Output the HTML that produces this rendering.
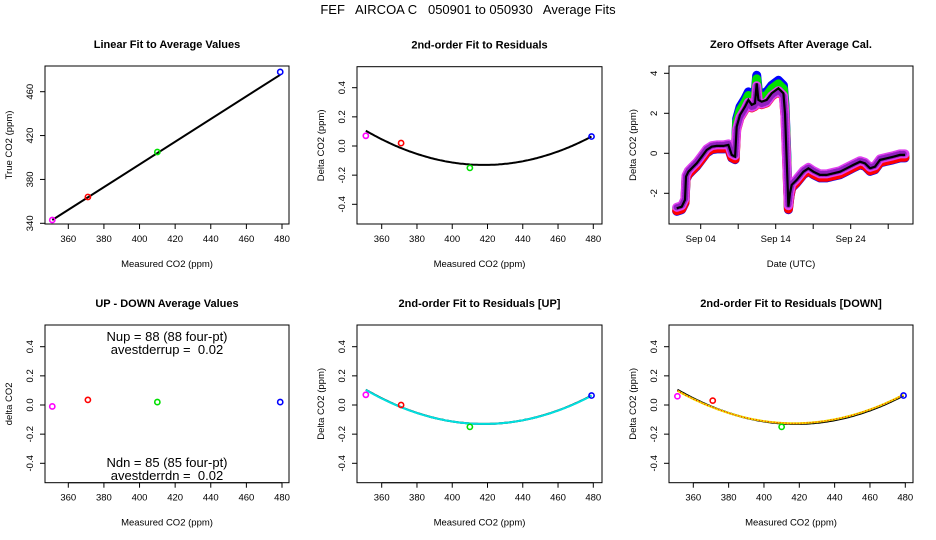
<!DOCTYPE html>
<html><head><meta charset="utf-8">
<style>
html,body{margin:0;padding:0;background:#fff;}
svg{display:block;font-family:"Liberation Sans",sans-serif;}
text{fill:#000;}
</style></head>
<body>
<svg id="chart" width="936" height="540" viewBox="0 0 936 540" xmlns="http://www.w3.org/2000/svg">
<text x="468" y="14" font-size="13" text-anchor="middle" style="white-space:pre">FEF   AIRCOA C   050901 to 050930   Average Fits</text>
</svg>
<script>
// ---------- data ----------
const co2Ticks = [360, 380, 400, 420, 440, 460, 480];
const trueTicks = [340, 380, 420, 460];
const deltaTicks = [-0.4, -0.2, 0.0, 0.2, 0.4];
const zeroTicks = [-2, 0, 2, 4];
const dateTickDays = [4, 9, 14, 19, 24, 29];
const dateTickLabels = ['Sep 04', '', 'Sep 14', '', 'Sep 24', ''];
const colors = ['magenta', 'red', '#00e000', 'blue'];

const measured = [351, 371, 410, 479];
const trueVals = [343, 364, 405, 478];
const linCoef = [1.0345, -20.1];          // slope, intercept

const resid = [0.07, 0.02, -0.15, 0.065];
const fitAll = [5.24e-5, 418, -0.13];     // a, xmin, ymin

const upDown = [-0.01, 0.035, 0.02, 0.02];

const residUp = [0.07, 0.0, -0.15, 0.065];
const fitUp = [5.2e-5, 418, -0.13];
const residDn = [0.06, 0.03, -0.15, 0.065];
const fitDn = [5.1e-5, 417, -0.125];

const zeroDays = [0.8,1.47,1.91,2.04,2.36,2.8,3.47,4.13,4.8,5.47,6.13,7.02,7.69,8.13,8.58,8.8,9.24,9.91,10.36,10.8,11.24,11.47,11.69,12.13,12.8,13.47,14.36,15.02,15.24,15.47,15.69,15.91,16.13,16.8,17.69,18.36,19.02,19.91,20.8,21.69,22.58,23.47,24.36,25.24,25.91,26.58,27.24,27.91,28.8,29.69,30.58,31.24];
const zeroMean = [-2.75,-2.67,-2.33,-1.17,-0.92,-0.75,-0.5,-0.17,0.17,0.33,0.37,0.37,0.42,-0.08,-0.17,1.33,1.92,2.33,2.67,2.42,2.5,3.5,2.67,2.58,2.67,3.0,3.25,3.0,2.0,-0.33,-2.67,-2.0,-1.58,-1.33,-0.92,-0.75,-0.92,-1.08,-1.08,-1.0,-0.92,-0.75,-0.58,-0.42,-0.5,-0.75,-0.67,-0.33,-0.25,-0.17,-0.08,-0.08];
// per-tank offsets from mean by period: [before Sep 8.7, Sep 8.7-15.5, after]
const offBlue = [-0.15, 0.4, -0.15];
const offGreen = [0.0, 0.22, -0.05];
const offRed = [-0.12, -0.15, -0.12];
const offMagenta = [0.05, -0.12, 0.05];
const periodBreaks = [8.7, 15.5];

// ---------- helpers ----------
const svg = document.getElementById('chart');
const NS = 'http://www.w3.org/2000/svg';
function mk(tag, attrs, parent) {
  const e = document.createElementNS(NS, tag);
  for (const k in attrs) e.setAttribute(k, attrs[k]);
  (parent || svg).appendChild(e);
  return e;
}
function lin(d0, d1, p0, p1) { return v => p0 + (v - d0) * (p1 - p0) / (d1 - d0); }

function panel(P) {
  const g = mk('g', {});
  
  
  const t = mk('text', {x: (P.L + P.R) / 2, y: P.T - 18, 'font-size': 11, 'font-weight': 'bold', 'text-anchor': 'middle'}, g);
  
  
  t.textContent = P.title;
  const box = mk('rect', {x: P.L, y: P.T, width: P.R - P.L, height: P.B - P.T, fill: 'none', stroke: '#000', 'stroke-width': 1}, g);
  
  
  const xa = mk('g', {}, g);
  
  
  const xs = P.xt.map(P.x);
  mk('line', {x1: xs[0], x2: xs[xs.length - 1], y1: P.B, y2: P.B, stroke: '#000'}, xa);
  P.xt.forEach((v, i) => {
    mk('line', {x1: xs[i], x2: xs[i], y1: P.B, y2: P.B + 5, stroke: '#000'}, xa);
    const lab = P.xl ? P.xl[i] : String(v);
    if (lab) {
      const tx = mk('text', {x: xs[i], y: P.B + 18, 'font-size': 9.5, 'text-anchor': 'middle'}, xa);
      
      
      tx.textContent = lab;
    }
  });
  const xt = mk('text', {x: (P.L + P.R) / 2, y: P.B + 43, 'font-size': 9.5, 'text-anchor': 'middle'}, g);
  
  
  xt.textContent = P.xtitle;
  const ya = mk('g', {}, g);
  
  
  const ys = P.yt.map(P.y);
  mk('line', {x1: P.L, x2: P.L, y1: ys[0], y2: ys[ys.length - 1], stroke: '#000'}, ya);
  P.yt.forEach((v, i) => {
    mk('line', {x1: P.L, x2: P.L - 5, y1: ys[i], y2: ys[i], stroke: '#000'}, ya);
    const lab = P.yfmt ? P.yfmt(v) : String(v);
    const tx = mk('text', {x: P.L - 12, y: ys[i], 'font-size': 9.5, 'text-anchor': 'middle', transform: `rotate(-90 ${P.L - 12} ${ys[i]})`}, ya);
    
    
    tx.textContent = lab;
  });
  const yx = P.L - 33, yy = (P.T + P.B) / 2;
  const ytt = mk('text', {x: yx, y: yy, 'font-size': 9.5, 'text-anchor': 'middle', transform: `rotate(-90 ${yx} ${yy})`}, g);
  
  
  ytt.textContent = P.ytitle;
  return g;
}
function pts(g, P, xs, ys) {
  xs.forEach((v, i) => {
    const c = mk('circle', {cx: P.x(v), cy: P.y(ys[i]), r: 2.6, fill: 'none', stroke: colors[i], 'stroke-width': 1.6}, g);
    
    
  });
}
function quadCurve(g, P, coef, x0, x1, attrs, name) {
  let d = '';
  for (let v = x0; v <= x1 + 0.01; v += 1) {
    const yv = coef[0] * (v - coef[1]) * (v - coef[1]) + coef[2];
    d += (d ? 'L' : 'M') + P.x(v).toFixed(1) + ',' + P.y(yv).toFixed(1);
  }
  const p = mk('path', Object.assign({d: d, fill: 'none'}, attrs), g);
  
  
}
const f1 = v => v.toFixed(1);

// ---------- panel 1 ----------
const P1 = {name: 'linear-fit-panel', title: 'Linear Fit to Average Values', L: 45, R: 289, T: 66, B: 224,
  x: lin(360, 480, 68.3, 282), y: lin(340, 460, 223.3, 91.7), xt: co2Ticks, yt: trueTicks,
  xtitle: 'Measured CO2 (ppm)', ytitle: 'True CO2 (ppm)'};
const g1 = panel(P1);
{
  const xa = 351, xb = 479;
  const l = mk('line', {x1: P1.x(xa), y1: P1.y(linCoef[0] * xa + linCoef[1]), x2: P1.x(xb), y2: P1.y(linCoef[0] * xb + linCoef[1]), stroke: '#000', 'stroke-width': 2}, g1);
  
  
  pts(g1, P1, measured, trueVals);
}

// ---------- panel 2 ----------
const P2 = {name: 'residual-fit-panel', title: '2nd-order Fit to Residuals', L: 357, R: 602, T: 66.7, B: 224,
  x: lin(360, 480, 381.7, 593.3), y: lin(0, 0.4, 146, 87.7), xt: co2Ticks, yt: deltaTicks, yfmt: f1,
  xtitle: 'Measured CO2 (ppm)', ytitle: 'Delta CO2 (ppm)'};
const g2 = panel(P2);
quadCurve(g2, P2, fitAll, 351, 479, {stroke: '#000', 'stroke-width': 2}, 'quadratic-fit-curve');
pts(g2, P2, measured, resid);

// ---------- panel 3 ----------
const P3 = {name: 'zero-offsets-panel', title: 'Zero Offsets After Average Cal.', L: 669, R: 913, T: 66, B: 224,
  x: lin(4, 24, 700.7, 850.7), y: lin(0, 4, 153.3, 73.3), xt: dateTickDays, xl: dateTickLabels, yt: zeroTicks,
  xtitle: 'Date (UTC)', ytitle: 'Delta CO2 (ppm)'};
const g3 = panel(P3);
function band(off, color, name, width, dash) {
  let d = '';
  zeroDays.forEach((dy, i) => {
    const k = dy < periodBreaks[0] ? 0 : (dy < periodBreaks[1] ? 1 : 2);
    d += (i ? 'L' : 'M') + P3.x(dy).toFixed(1) + ',' + P3.y(zeroMean[i] + off[k]).toFixed(1);
  });
  const a = {d: d, fill: 'none', stroke: color, 'stroke-width': width, 'stroke-linejoin': 'round', 'stroke-linecap': 'round'};
  if (dash) a['stroke-dasharray'] = dash;
  const p = mk('path', a, g3);
  
  
}
band(offBlue, 'blue', 'tank-blue-offsets', 9);
band(offGreen, '#00e000', 'tank-green-offsets', 9);
band(offRed, 'red', 'tank-red-offsets', 9);
band(offMagenta, '#e040f0', 'tank-magenta-offsets', 9);
band(offMagenta, '#9020c0', 'tank-magenta-offsets-texture', 6, '1 2');
{
  let d = '';
  zeroDays.forEach((dy, i) => { d += (i ? 'L' : 'M') + P3.x(dy).toFixed(1) + ',' + P3.y(zeroMean[i]).toFixed(1); });
  const p = mk('path', {d: d, fill: 'none', stroke: '#000', 'stroke-width': 2.2}, g3);
  
  
}

// ---------- panel 4 ----------
const P4 = {name: 'up-down-panel', title: 'UP - DOWN Average Values', L: 45, R: 289, T: 325, B: 482.7,
  x: lin(360, 480, 68.3, 282), y: lin(0, 0.4, 405, 346.7), xt: co2Ticks, yt: deltaTicks, yfmt: f1,
  xtitle: 'Measured CO2 (ppm)', ytitle: 'delta CO2'};
const g4 = panel(P4);
pts(g4, P4, measured, upDown);
[['Nup = 88 (88 four-pt)', 337], ['avestderrup =  0.02', 350], ['Ndn = 85 (85 four-pt)', 463], ['avestderrdn =  0.02', 476]].forEach(a => {
  const t = mk('text', {x: 167, y: a[1] + 4, 'font-size': 13, 'text-anchor': 'middle', style: 'white-space:pre'}, g4);
  
  
  t.textContent = a[0];
});

// ---------- panel 5 ----------
const P5 = {name: 'residual-fit-up-panel', title: '2nd-order Fit to Residuals [UP]', L: 357, R: 602, T: 325, B: 482.7,
  x: lin(360, 480, 381.7, 593.3), y: lin(0, 0.4, 405, 346.7), xt: co2Ticks, yt: deltaTicks, yfmt: f1,
  xtitle: 'Measured CO2 (ppm)', ytitle: 'Delta CO2 (ppm)'};
const g5 = panel(P5);
quadCurve(g5, P5, fitAll, 351, 479, {stroke: '#000', 'stroke-width': 2}, 'overall-fit-curve');
quadCurve(g5, P5, fitUp, 351, 479, {stroke: '#00e0e0', 'stroke-width': 2}, 'up-fit-curve');
pts(g5, P5, measured, residUp);

// ---------- panel 6 ----------
const P6 = {name: 'residual-fit-down-panel', title: '2nd-order Fit to Residuals [DOWN]', L: 669, R: 913, T: 325, B: 482.7,
  x: lin(360, 480, 693.3, 905.3), y: lin(0, 0.4, 405, 346.7), xt: co2Ticks, yt: deltaTicks, yfmt: f1,
  xtitle: 'Measured CO2 (ppm)', ytitle: 'Delta CO2 (ppm)'};
const g6 = panel(P6);
quadCurve(g6, P6, fitAll, 351, 479, {stroke: '#000', 'stroke-width': 2}, 'overall-fit-curve');
quadCurve(g6, P6, fitDn, 351, 479, {stroke: '#f0e000', 'stroke-width': 2}, 'down-fit-curve');
quadCurve(g6, P6, fitDn, 351, 479, {stroke: 'red', 'stroke-width': 1, 'stroke-dasharray': '1 2'}, 'down-fit-curve-dots');
pts(g6, P6, measured, residDn);
</script>
</body></html>
